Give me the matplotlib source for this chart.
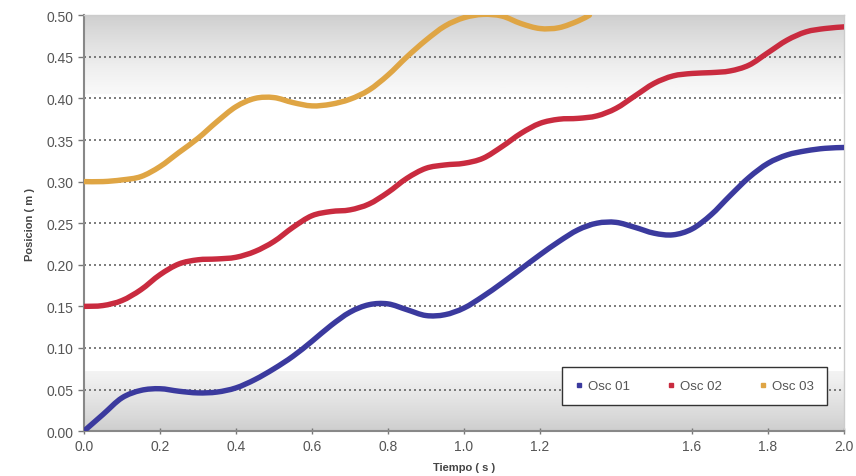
import numpy as np
import matplotlib.pyplot as plt
from matplotlib.lines import Line2D
from matplotlib.path import Path
from matplotlib.patches import PathPatch

plt.rcParams["font.family"] = ["Liberation Sans", "DejaVu Sans"]

# Posicion de cada oscilador (m) frente al tiempo (s)
t_osc01 = [0.00, 0.05, 0.10, 0.15, 0.20, 0.25, 0.30, 0.35, 0.40, 0.45, 0.50,
           0.55, 0.60, 0.65, 0.70, 0.75, 0.80, 0.85, 0.90, 0.95, 1.00,
           1.05, 1.10, 1.15, 1.20, 1.25, 1.30, 1.35, 1.40, 1.45, 1.50,
           1.55, 1.60, 1.65, 1.70, 1.75, 1.80, 1.85, 1.90, 1.95, 2.00]
osc01 = [0.000, 0.020, 0.040, 0.049, 0.051, 0.048, 0.046, 0.047, 0.052, 0.062, 0.075,
         0.090, 0.108, 0.127, 0.143, 0.152, 0.153, 0.146, 0.139, 0.140, 0.148,
         0.162, 0.178, 0.195, 0.212, 0.228, 0.242, 0.250, 0.251, 0.245, 0.238,
         0.236, 0.243, 0.260, 0.283, 0.305, 0.322, 0.332, 0.337, 0.340, 0.341]

t_osc02 = t_osc01
osc02 = [0.150, 0.151, 0.157, 0.170, 0.188, 0.201, 0.206, 0.207, 0.209, 0.216, 0.228,
         0.245, 0.259, 0.264, 0.266, 0.273, 0.287, 0.304, 0.316, 0.320, 0.322,
         0.328, 0.342, 0.358, 0.370, 0.375, 0.376, 0.379, 0.388, 0.403, 0.418,
         0.427, 0.430, 0.431, 0.433, 0.440, 0.455, 0.470, 0.480, 0.484, 0.486]

t_osc03 = [0.00, 0.05, 0.10, 0.15, 0.20, 0.25, 0.30, 0.35, 0.40, 0.45, 0.50,
           0.55, 0.60, 0.65, 0.70, 0.75, 0.80, 0.85, 0.90, 0.95, 1.00,
           1.05, 1.10, 1.15, 1.20, 1.25, 1.30, 1.33]
osc03 = [0.300, 0.300, 0.302, 0.306, 0.318, 0.335, 0.352, 0.372, 0.390, 0.400, 0.401,
         0.395, 0.391, 0.393, 0.399, 0.410, 0.428, 0.450, 0.470, 0.487, 0.497,
         0.501, 0.499, 0.490, 0.484, 0.485, 0.493, 0.500]

x_ticks = [0.0, 0.2, 0.4, 0.6, 0.8, 1.0, 1.2, 1.6, 1.8, 2.0]
x_labels = ["0.0", "0.2", "0.4", "0.6", "0.8", "1.0", "1.2", "1.6", "1.8", "2.0"]
y_ticks = [0.00, 0.05, 0.10, 0.15, 0.20, 0.25, 0.30, 0.35, 0.40, 0.45, 0.50]

c_blue = "#3b3a9e"
c_red = "#c92b3f"
c_orange = "#dfa544"
c_text = "#555555"


def smooth_line(ax, xs, ys, color, lw):
    # smoothed line through the points (cubic Bezier, Catmull-Rom tangents)
    p = np.column_stack([xs, ys])
    n = len(p)
    verts = [p[0]]
    codes = [Path.MOVETO]
    for i in range(n - 1):
        p0 = p[i - 1] if i > 0 else p[i]
        p3 = p[i + 2] if i + 2 < n else p[i + 1]
        c1 = p[i] + (p[i + 1] - p0) / 6.0
        c2 = p[i + 1] - (p3 - p[i]) / 6.0
        verts += [c1, c2, p[i + 1]]
        codes += [Path.CURVE4] * 3
    patch = PathPatch(Path(verts, codes), facecolor="none", edgecolor=color,
                      linewidth=lw, capstyle="round", joinstyle="round", zorder=3)
    ax.add_patch(patch)


fig = plt.figure(figsize=(8.56, 4.77), dpi=100)
ax = fig.add_axes([0.098, 0.094, 0.888, 0.872])
ax.set_xlim(0, 2.0)
ax.set_ylim(0, 0.5)

# grey shading near the top and bottom of the plot area
top = np.linspace(0, 1, 100).reshape(-1, 1)
ax.imshow(top, extent=[0, 2.0, 0.405, 0.5], aspect="auto", cmap="Greys",
          vmin=-0.2, vmax=3.8, origin="lower", zorder=0)
bot = np.linspace(1, 0.2, 100).reshape(-1, 1)
ax.imshow(bot, extent=[0, 2.0, 0.0, 0.072], aspect="auto", cmap="Greys",
          vmin=-0.2, vmax=3.8, origin="lower", zorder=0)

for y in y_ticks[1:-1]:
    ax.axhline(y, color="#666666", linestyle=(0, (1.2, 1.8)), linewidth=1.2, zorder=1)

smooth_line(ax, t_osc01, osc01, c_blue, 3.9)
smooth_line(ax, t_osc02, osc02, c_red, 3.9)
smooth_line(ax, t_osc03, osc03, c_orange, 3.9)

ax.set_xticks(x_ticks)
ax.set_xticklabels(x_labels)
ax.set_yticks(y_ticks)
ax.set_yticklabels([f"{v:.2f}" for v in y_ticks])
ax.tick_params(axis="both", colors="#777777", labelcolor=c_text, labelsize=10,
               length=4, width=1)
ax.tick_params(axis="x", direction="inout", pad=4)

for side in ["left", "bottom"]:
    ax.spines[side].set_color("#888888")
    ax.spines[side].set_linewidth(1.5)
for side in ["top", "right"]:
    ax.spines[side].set_color("#cccccc")
    ax.spines[side].set_linewidth(1.0)

ax.set_xlabel("Tiempo ( s )", fontsize=8, fontweight="bold", color="#444444", labelpad=6)
ax.set_ylabel("Posicion ( m )", fontsize=8, fontweight="bold", color="#444444", labelpad=8)

handles = [
    Line2D([], [], color=c_blue, marker="s", markersize=3, linestyle="none"),
    Line2D([], [], color=c_red, marker="s", markersize=3, linestyle="none"),
    Line2D([], [], color=c_orange, marker="s", markersize=3, linestyle="none"),
]
leg = ax.legend(handles, ["Osc 01", "Osc 02", "Osc 03"], ncol=3,
                loc="lower right", bbox_to_anchor=(0.978, 0.062),
                fontsize=9.5, frameon=True, fancybox=False, framealpha=1.0,
                handlelength=0.6, handletextpad=0.4, columnspacing=2.8,
                borderpad=1.0, borderaxespad=0.0, labelcolor=c_text)
leg.get_frame().set_edgecolor("#333333")
leg.get_frame().set_facecolor("white")
leg.get_frame().set_linewidth(1.0)
leg.set_zorder(5)

fig.savefig("out.png", dpi=100)
